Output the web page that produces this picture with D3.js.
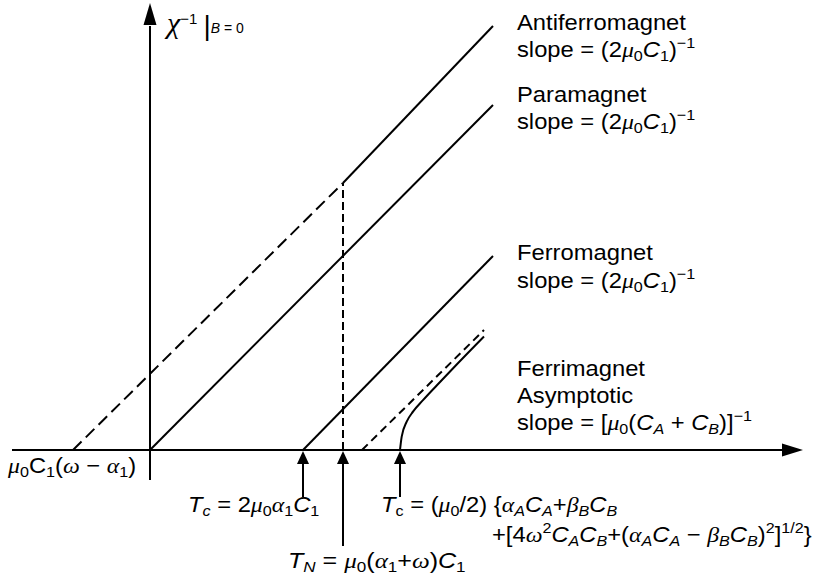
<!DOCTYPE html>
<html><head><meta charset="utf-8">
<script src="https://cdn.jsdelivr.net/npm/d3@7"></script>
<style>body{margin:0;background:#fff}svg{display:block}text{white-space:pre}</style>
</head><body>
<script>
// ---- data (schematic units: T horizontal, 1/chi vertical) ----
const antiferroDashed = [[-7.7, 0], [19.3, 26.7]];
const antiferroSolid  = [[19.3, 26.7], [34.3, 42.4]];
const paramagnet      = [[0, 0], [34.3, 34.5]];
const ferromagnet     = [[15.3, 0], [34.3, 19.4]];
const neelDrop        = [[19.3, 0], [19.3, 26.7]];
const ferriAsymptote  = [[21.2, 0], [33.4, 12.0]];
const ferrimagnet     = [[25.0, 0], [25.17, 1.33], [25.67, 2.83], [26.3, 3.83], [27.3, 4.98], [28.67, 6.45], [30.67, 8.55], [33.4, 11.35]];
const markerT         = [15.3, 19.3, 25.0];
const markerDepth     = [4.7, 9.6, 4.7];

const W = 830, H = 579;
const svg = d3.select('body').append('svg').attr('width', W).attr('height', H);
const x = d3.scaleLinear().domain([-14, 66]).range([10, 810]);
const y = d3.scaleLinear().domain([0, 44.5]).range([450, 5]);
const line = d3.line().x(d => x(d[0])).y(d => y(d[1]));

// axes
svg.append('line').attr('x1', x(-13.8)).attr('x2', x(63.4)).attr('y1', y(0)).attr('y2', y(0))
  .attr('stroke', '#000').attr('stroke-width', 2.2);
svg.append('path').attr('d', `M${x(65.3)},${y(0)} L${x(63.2)},${y(0)-6.5} L${x(63.2)},${y(0)+6.5} Z`).attr('fill', '#000');
svg.append('line').attr('x1', x(0)).attr('x2', x(0)).attr('y1', y(-3.0)).attr('y2', y(42.4))
  .attr('stroke', '#000').attr('stroke-width', 2);
svg.append('path').attr('d', `M${x(0)},${y(44.7)} L${x(0)-6.5},${y(42.5)} L${x(0)+6.5},${y(42.5)} Z`).attr('fill', '#000');

// lines
const draw = (data, dash, w) => svg.append('path').datum(data).attr('d', line)
  .attr('fill', 'none').attr('stroke', '#000').attr('stroke-width', w || 2)
  .attr('stroke-dasharray', dash || null);
draw(antiferroDashed, '12,6');
draw(antiferroSolid);
draw(paramagnet);
draw(ferromagnet);
draw(neelDrop, '8,4');
draw(ferriAsymptote, '8,5');
svg.append('path').datum(ferrimagnet).attr('d', d3.line().x(d => x(d[0])).y(d => y(d[1])).curve(d3.curveMonotoneX))
  .attr('fill', 'none').attr('stroke', '#000').attr('stroke-width', 2);

// marker arrows
markerT.forEach((t, i) => {
  const xp = x(t);
  svg.append('line').attr('x1', xp).attr('x2', xp).attr('y1', y(0) + 12).attr('y2', y(-markerDepth[i]))
    .attr('stroke', '#000').attr('stroke-width', 2);
  svg.append('path').attr('d', `M${xp},${y(0)+1} L${xp-6},${y(0)+14} L${xp+6},${y(0)+14} Z`).attr('fill', '#000');
});

// rich text helper
function rich(x0, y0, parts, base = 22, sx = 1.08) {
  const g = svg.append('g').attr('transform', `translate(${x0},${y0}) scale(${sx},1)`);
  const t = g.append('text').attr('font-family', 'Liberation Sans, Arial, sans-serif')
    .attr('font-size', base).attr('fill', '#000');
  let cur = 0;
  parts.forEach(p => {
    const s = p[0], f = p[1] || '';
    let size = p[2] || base, off = p[3] || 0;
    if (f.includes('b')) { size = base * 0.68; off = base * 0.2; }
    if (f.includes('p')) { size = base * 0.68; off = -base * 0.42; }
    const ts = t.append('tspan').text(s).attr('font-size', size).attr('dy', off - cur);
    cur = off;
    if (f.includes('i')) ts.attr('font-style', 'italic');
    if (f.includes('g')) ts.attr('font-family', 'Liberation Serif, serif');
  });
}
const MU = ['μ', 'gi'];
const slopeC1 = [['slope = (2'], MU, ['0', 'b'], ['C', 'i'], ['1', 'b'], [')'], ['−1', 'p']];

rich(167, 33, [['χ', 'gi', 30], ['−1', 'p'], [' '], ['|', '', 28, 2], ['B', 'i', 14, 0], [' = 0', '', 14, 0]], 22, 1.0);

rich(517, 30, [['Antiferromagnet']]);
rich(517, 57, slopeC1);
rich(517, 102, [['Paramagnet']]);
rich(517, 129, slopeC1);
rich(517, 260, [['Ferromagnet']]);
rich(517, 288, slopeC1);
rich(517, 376, [['Ferrimagnet']]);
rich(517, 403, [['Asymptotic']]);
rich(517, 430, [['slope = ['], MU, ['0', 'b'], ['('], ['C', 'i'], ['A', 'ib'], [' + '], ['C', 'i'], ['B', 'ib'], [')]'], ['−1', 'p']]);

rich(8, 473, [MU, ['0', 'b'], ['C'], ['1', 'b'], ['('], ['ω', 'gi'], [' − '], ['α', 'gi'], ['1', 'b'], [')']]);

rich(188, 512, [['T', 'i'], ['c', 'ib'], [' = 2'], MU, ['0', 'b'], ['α', 'gi'], ['1', 'b'], ['C', 'i'], ['1', 'b']]);
rich(381, 512, [['T', 'i'], ['c', 'b'], [' = ('], MU, ['0', 'b'], ['/2) {'], ['α', 'gi'], ['A', 'ib'], ['C', 'i'], ['A', 'ib'], ['+'], ['β', 'gi'], ['B', 'ib'], ['C', 'i'], ['B', 'ib']]);
rich(492, 542, [['+[4'], ['ω', 'gi'], ['2', 'p'], ['C', 'i'], ['A', 'ib'], ['C', 'i'], ['B', 'ib'], ['+('], ['α', 'gi'], ['A', 'ib'], ['C', 'i'], ['A', 'ib'], [' − '], ['β', 'gi'], ['B', 'ib'], ['C', 'i'], ['B', 'ib'], [')'], ['2', 'p'], [']'], ['1/2', 'p'], ['}']]);
rich(288, 568, [['T', 'i'], ['N', 'ib'], [' = '], MU, ['0', 'b'], ['('], ['α', 'gi'], ['1', 'b'], ['+'], ['ω', 'gi'], [')'], ['C', 'i'], ['1', 'b']], 22, 1.14);
</script>
</body></html>
